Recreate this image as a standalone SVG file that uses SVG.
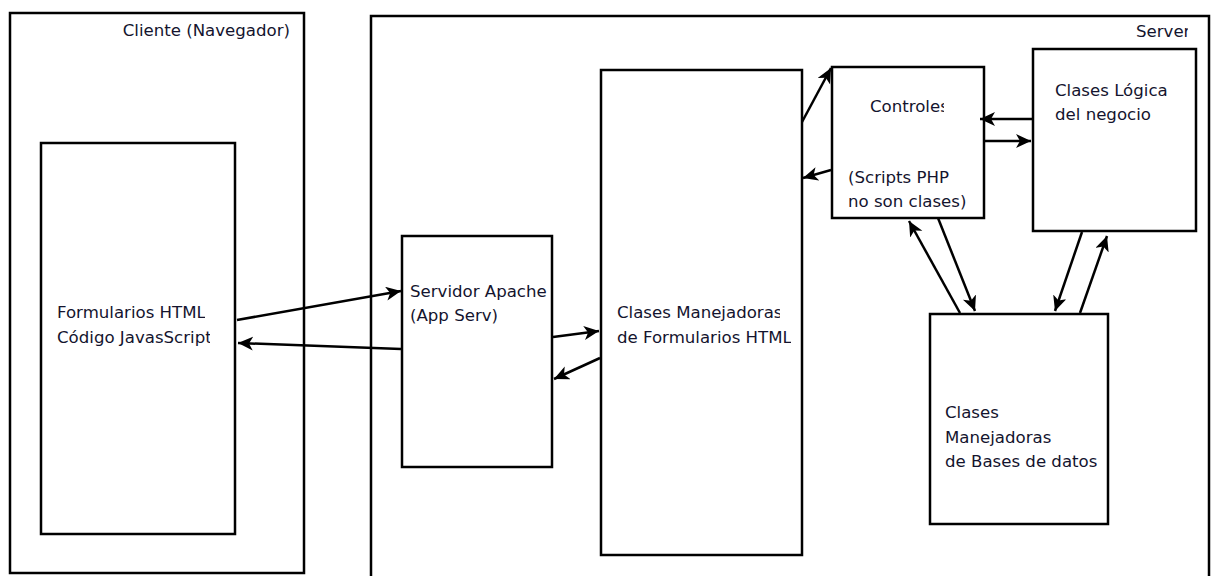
<svg xmlns="http://www.w3.org/2000/svg" width="1212" height="576" viewBox="0 0 1212 576">
<style>
.box{fill:#fff;stroke:#000;stroke-width:2.5}
.lbl{font-family:"DejaVu Sans",sans-serif;font-size:16.6px;fill:#14142e}
.conn{fill:none;stroke:#000;stroke-width:2.5;marker-end:url(#arr)}
</style>
<defs>
<marker id="arr" markerUnits="userSpaceOnUse" markerWidth="18" markerHeight="16" refX="15" refY="7" orient="auto">
<path d="M0,0 L15,7 L0,14 L4,7 Z" fill="#000"/>
</marker>
<clipPath id="c1"><rect x="50" y="290" width="155" height="33"/></clipPath>
<clipPath id="c2"><rect x="50" y="323" width="160" height="30"/></clipPath>
<clipPath id="c3"><rect x="405" y="275" width="143" height="27"/></clipPath>
<clipPath id="c4"><rect x="405" y="302" width="92" height="30"/></clipPath>
<clipPath id="c5"><rect x="610" y="290" width="170" height="33"/></clipPath>
<clipPath id="c6"><rect x="610" y="323" width="181" height="30"/></clipPath>
<clipPath id="c7"><rect x="860" y="90" width="84" height="30"/></clipPath>
<clipPath id="c8"><rect x="840" y="165" width="112" height="23"/></clipPath>
<clipPath id="c9"><rect x="1130" y="20" width="58" height="25"/></clipPath>
<clipPath id="c10"><rect x="940" y="425" width="133" height="24"/></clipPath>
<clipPath id="c11"><rect x="940" y="449" width="158" height="25"/></clipPath>
</defs>
<rect width="1212" height="576" fill="#fff"/>
<g id="cliente">
<rect class="box" x="10" y="13" width="294" height="560"/>
<text class="lbl" x="290" y="36" text-anchor="end">Cliente (Navegador)</text>
</g>
<g id="server">
<rect class="box" x="371" y="16" width="838" height="600"/>
<text class="lbl" x="1136" y="37" clip-path="url(#c9)">Server</text>
</g>
<g id="formularios">
<rect class="box" x="41" y="143" width="194" height="391"/>
<text class="lbl" x="57" y="318" clip-path="url(#c1)">Formularios HTML</text>
<text class="lbl" x="57" y="343" clip-path="url(#c2)">Código JavasScript</text>
</g>
<g id="apache">
<rect class="box" x="402" y="236" width="150" height="231"/>
<text class="lbl" x="410" y="297" clip-path="url(#c3)">Servidor Apache</text>
<text class="lbl" x="410" y="321" clip-path="url(#c4)">(App Serv)</text>
</g>
<g id="manejadoras-form">
<rect class="box" x="601" y="70" width="201" height="485"/>
<text class="lbl" x="617" y="318" clip-path="url(#c5)">Clases Manejadoras</text>
<text class="lbl" x="617" y="343" clip-path="url(#c6)">de Formularios HTML</text>
</g>
<g id="controles">
<rect class="box" x="832" y="67" width="152" height="151"/>
<text class="lbl" x="870" y="112" clip-path="url(#c7)">Controles</text>
<text class="lbl" x="848" y="183" clip-path="url(#c8)">(Scripts PHP</text>
<text class="lbl" x="848" y="207">no son clases)</text>
</g>
<g id="logica">
<rect class="box" x="1033" y="49" width="163" height="182"/>
<text class="lbl" x="1055" y="96">Clases Lógica</text>
<text class="lbl" x="1055" y="120">del negocio</text>
</g>
<g id="bd">
<rect class="box" x="930" y="314" width="178" height="210"/>
<text class="lbl" x="945" y="418">Clases</text>
<text class="lbl" x="945" y="443" clip-path="url(#c10)">Manejadoras</text>
<text class="lbl" x="945" y="467" clip-path="url(#c11)">de Bases de datos</text>
</g>
<g id="connectors">
<path class="conn" d="M237,320 L401,291"/>
<path class="conn" d="M401,349 L238,343"/>
<path class="conn" d="M553,337 L599,331"/>
<path class="conn" d="M600,358 L554,379"/>
<path class="conn" d="M802,122 L831,68"/>
<path class="conn" d="M831,170 L803,178"/>
<path class="conn" d="M1032,119 L980,119"/>
<path class="conn" d="M985,141 L1031,141"/>
<path class="conn" d="M960,313 L909,221"/>
<path class="conn" d="M938,218 L975,311"/>
<path class="conn" d="M1082,232 L1055,311"/>
<path class="conn" d="M1080,313 L1107,236"/>
</g>
</svg>
